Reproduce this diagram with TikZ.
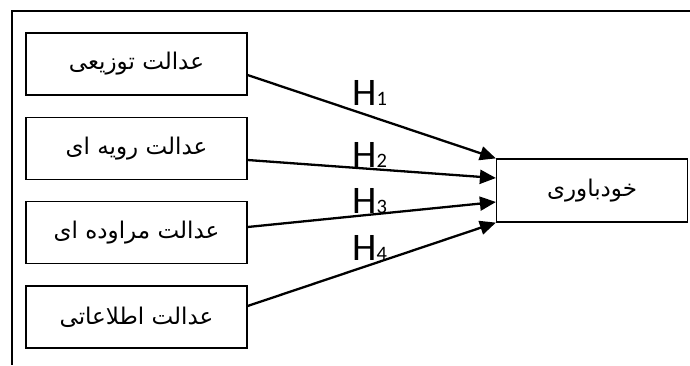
\documentclass[tikz,border=0pt]{standalone}
\usepackage{fontspec}
\usetikzlibrary{arrows.meta,calc}
\TeXXeTstate=1
\newfontfamily\farsifont[Script=Arabic]{DejaVu Sans}
\newfontfamily\hypfont{Carlito}
\definecolor{jmInk}{HTML}{000000}
\tikzset{
  jm frame/.style={draw=jmInk, line width=1.3pt},
  jm box/.style={
    draw=jmInk,
    line width=1.2pt,
    minimum width=221pt,
    minimum height=62pt,
    inner sep=0pt,
    font=\farsifont\fontsize{23}{26}\selectfont
  },
  jm target/.style={jm box, minimum width=191pt, minimum height=63pt},
  jm arrow/.style={
    draw=jmInk,
    line width=2.3pt,
    -{Triangle[length=16pt,width=14pt]}
  },
  jm hyp/.style={anchor=base west, inner sep=0pt, text=jmInk,
    font=\hypfont\fontsize{39}{40}\selectfont}
}
\newcommand{\hyp}[1]{H{\fontsize{20.5}{22}\selectfont #1}}

\begin{document}
\begin{tikzpicture}[x=1pt,y=-1pt]
  \useasboundingbox (0,0) rectangle (690,365);
  \draw[jm frame] (690,11) -- (12,11) -- (12,365);

  % justice dimensions
  \node[jm box] (dist) at (136.5,64) {\beginR عدالت توزیعی\endR};
  \node[jm box] (proc) at (136.5,148.5) {\beginR عدالت رویه ای\endR};
  \node[jm box] (intr) at (136.5,232.5) {\beginR عدالت مراوده ای\endR};
  \node[jm box] (info) at (136.5,317) {\beginR عدالت اطلاعاتی\endR};
  % outcome
  \node[jm target] (self) at (592,190.5) {\beginR خودباوری\endR};

  \draw[jm arrow] ([yshift=-11pt]dist.east) -- (self.north west);
  \draw[jm arrow] ([yshift=-11.5pt]proc.east) -- ([yshift=12.5pt]self.west);
  \draw[jm arrow] ([yshift=5.5pt]intr.east) -- ([yshift=-11.5pt]self.west);
  \draw[jm arrow] ([yshift=11pt]info.east) -- (self.south west);

  \node[jm hyp] (h1) at (352,105) {\hyp{1}};
  \node[jm hyp] (h2) at (352,167) {\hyp{2}};
  \node[jm hyp] (h3) at (352,213) {\hyp{3}};
  \node[jm hyp] (h4) at (352,260) {\hyp{4}};
\end{tikzpicture}
\end{document}
